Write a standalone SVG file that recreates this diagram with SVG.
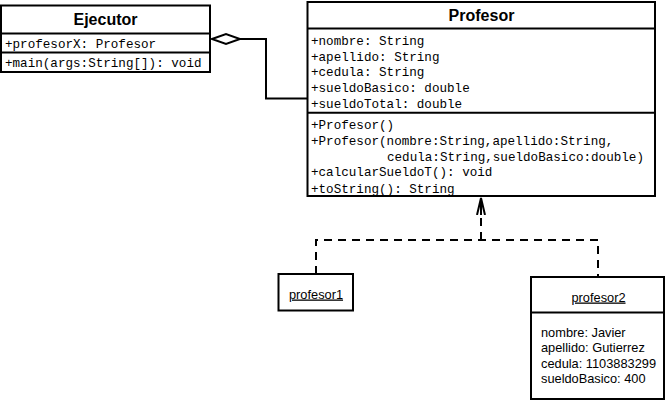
<svg xmlns="http://www.w3.org/2000/svg" width="669" height="402" viewBox="0 0 669 402">
<style>
.box{fill:#fff;stroke:#000;stroke-width:2}
.sep{stroke:#000;stroke-width:2}
.title{font-family:"Liberation Sans",Arial,sans-serif;font-weight:bold;font-size:16px;fill:#000;text-anchor:middle}
.mono{font-family:"Liberation Mono","Courier New",monospace;font-size:12.6px;fill:#000}
.obj{font-family:"Liberation Sans",Arial,sans-serif;font-size:12.8px;fill:#000}
.u{text-decoration:underline}
.conn{fill:none;stroke:#000;stroke-width:2}
.dash{stroke-dasharray:8,6}
</style>
<defs>
<marker id="open" viewBox="0 0 18 10" refX="17" refY="5" markerWidth="18" markerHeight="10" markerUnits="userSpaceOnUse" orient="auto">
<path d="M0,1 L17,5 L0,9 M0,5 L17,5" fill="none" stroke="#000" stroke-width="2"/>
</marker>
</defs>
<g id="connectors">
<path class="conn" d="M240,39 L266,39 L266,98.5 L307,98.5"/>
<path d="M212,39 L226,34 L240,39 L226,44 Z" fill="#fff" stroke="#000" stroke-width="2"/>
<path class="conn dash" d="M316,274 L316,240 L598,240 L598,277"/>
<path class="conn dash" d="M481,240 L481,198" marker-end="url(#open)"/>
</g>
<g id="Ejecutor">
<rect class="box" x="1" y="5.5" width="209" height="66.5"/>
<line class="sep" x1="1" y1="33.5" x2="210" y2="33.5"/>
<line class="sep" x1="1" y1="52.5" x2="210" y2="52.5"/>
<text class="title" x="105.5" y="25">Ejecutor</text>
<text class="mono" x="5" y="48">+profesorX: Profesor</text>
<text class="mono" x="5" y="67">+main(args:String[]): void</text>
</g>
<g id="Profesor">
<rect class="box" x="307.5" y="2" width="347.5" height="194"/>
<line class="sep" x1="307.5" y1="28.5" x2="655" y2="28.5"/>
<line class="sep" x1="307.5" y1="112.7" x2="655" y2="112.7"/>
<text class="title" x="481.5" y="21">Profesor</text>
<text class="mono" x="311" y="45">+nombre: String</text>
<text class="mono" x="311" y="60.5">+apellido: String</text>
<text class="mono" x="311" y="76">+cedula: String</text>
<text class="mono" x="311" y="92">+sueldoBasico: double</text>
<text class="mono" x="311" y="108">+sueldoTotal: double</text>
<text class="mono" x="311" y="129">+Profesor()</text>
<text class="mono" x="311" y="145">+Profesor(nombre:String,apellido:String,</text>
<text class="mono" x="387" y="160.5">cedula:String,sueldoBasico:double)</text>
<text class="mono" x="311" y="176">+calcularSueldoT(): void</text>
<text class="mono" x="311" y="192.5">+toString(): String</text>
</g>
<g id="profesor1">
<rect class="box" x="278.5" y="274" width="74.5" height="36.5"/>
<text class="obj u" x="316" y="298.5" text-anchor="middle">profesor1</text>
</g>
<g id="profesor2">
<rect class="box" x="531" y="277" width="133" height="122"/>
<line class="sep" x1="531" y1="312.5" x2="664" y2="312.5"/>
<text class="obj u" x="598.5" y="301.5" text-anchor="middle">profesor2</text>
<text class="obj" x="541" y="336.5">nombre: Javier</text>
<text class="obj" x="541" y="352">apellido: Gutierrez</text>
<text class="obj" x="541" y="367.5">cedula: 1103883299</text>
<text class="obj" x="541" y="383">sueldoBasico: 400</text>
</g>
</svg>
